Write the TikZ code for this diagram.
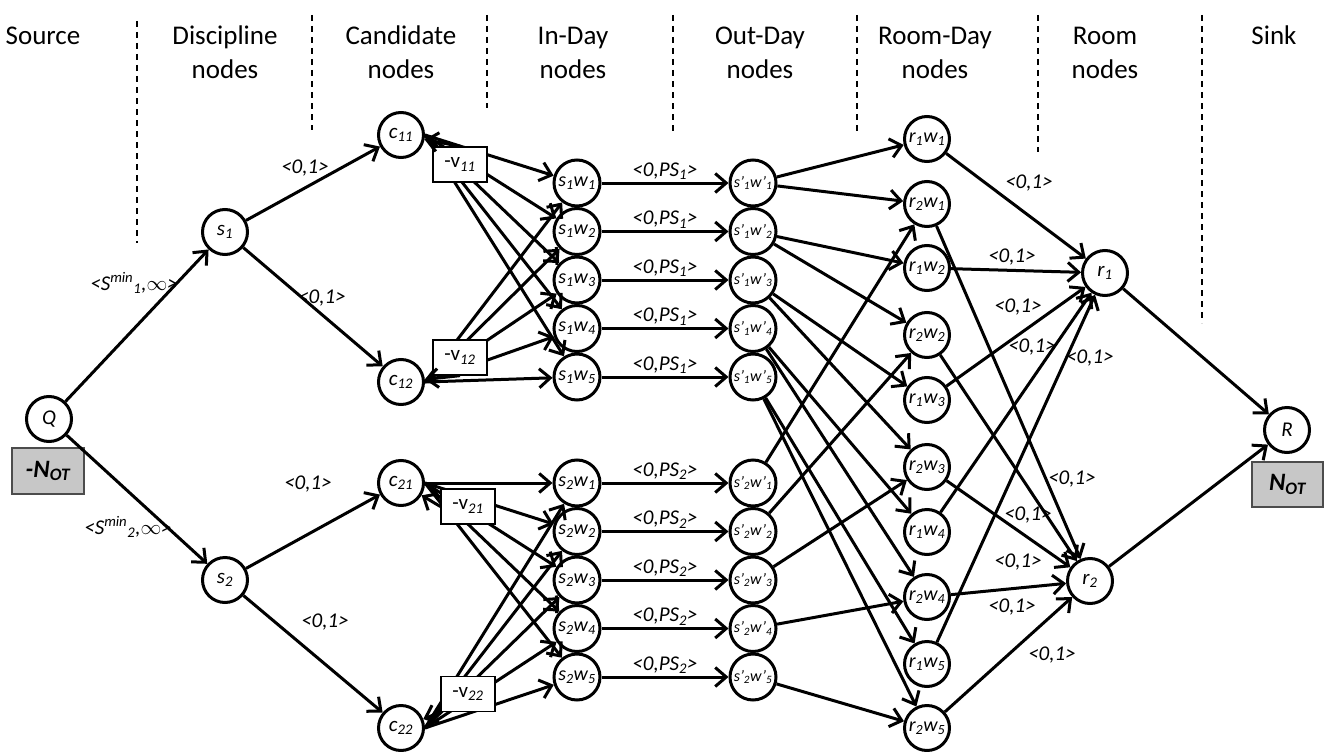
\documentclass[tikz,border=0pt]{standalone}
\usepackage{fontspec}
\setmainfont{Carlito}
\usetikzlibrary{arrows.meta}
\tikzset{
  nd/.style={circle,draw,line width=3pt,minimum size=45pt,inner sep=0pt,font=\fontsize{21}{24}\selectfont\itshape},
  ndi/.style={nd,minimum size=46pt,font=\fontsize{20}{22}\selectfont\itshape},
  ndo/.style={nd,minimum size=46pt,font=\fontsize{16}{18}\selectfont\itshape},
  ndr/.style={nd,minimum size=45pt,font=\fontsize{20}{22}\selectfont\itshape},
  arr/.style={line width=3pt,-{Straight Barb[length=11pt,width=19pt,line width=3pt]}},
  vbox/.style={draw,fill=white,line width=1.3pt,minimum width=54pt,minimum height=35pt,inner sep=0pt,font=\fontsize{21}{23}\selectfont},
  gbox/.style={draw=black!70,fill=black!22,line width=1.6pt,minimum width=72pt,minimum height=46pt,inner sep=0pt,font=\fontsize{25}{27}\selectfont\bfseries\itshape},
  hdr/.style={anchor=base,inner sep=0pt,font=\fontsize{27}{33}\selectfont},
  lab/.style={inner sep=0pt,font=\fontsize{21}{23}\selectfont\itshape},
  divider/.style={dash pattern=on 6pt off 5pt,line width=1.4pt},
}
\begin{document}
\begin{tikzpicture}[x=1pt,y=-1pt]
\useasboundingbox (0,0) rectangle (1325,752);

% headers
\node[hdr] (h1) at (43,45) {Source};
\node[hdr] (h2a) at (225,45) {Discipline};
\node[hdr] (h2b) at (225,78) {nodes};
\node[hdr] (h3a) at (401,45) {Candidate};
\node[hdr] (h3b) at (401,78) {nodes};
\node[hdr] (h4a) at (573,45) {In-Day};
\node[hdr] (h4b) at (573,78) {nodes};
\node[hdr] (h5a) at (760,45) {Out-Day};
\node[hdr] (h5b) at (760,78) {nodes};
\node[hdr] (h6a) at (935,45) {Room-Day};
\node[hdr] (h6b) at (935,78) {nodes};
\node[hdr] (h7a) at (1105,45) {Room};
\node[hdr] (h7b) at (1105,78) {nodes};
\node[hdr] (h8) at (1274,45) {Sink};

% dividers
\draw[divider] (137,21) -- (137,243);
\draw[divider] (312,15) -- (312,130);
\draw[divider] (487,15) -- (487,108);
\draw[divider] (673,15) -- (673,135);
\draw[divider] (857,15) -- (857,135);
\draw[divider] (1038,15) -- (1038,152);
\draw[divider] (1202,15) -- (1202,323);

% nodes
\node[nd] (Q) at (49,419) {Q};
\node[gbox] (nq) at (48,471) {-N\textsubscript{OT}};
\node[nd] (s1) at (225,232) {s\textsubscript{1}};
\node[nd] (s2) at (225,580) {s\textsubscript{2}};
\node[nd] (c11) at (401,135) {c\textsubscript{11}};
\node[nd] (c12) at (401,382) {c\textsubscript{12}};
\node[nd] (c21) at (401,483) {c\textsubscript{21}};
\node[nd] (c22) at (401,728) {c\textsubscript{22}};

\foreach \j/\y in {1/183,2/231.5,3/280,4/328.5,5/377} {
  \node[ndi] (a\j) at (577,\y) {s\textsubscript{1}w\textsubscript{\j}};
  \node[ndo] (b\j) at (753,\y) {s'\textsubscript{1}w'\textsubscript{\j}};
}
\foreach \j/\y in {1/483,2/531.5,3/580,4/628.5,5/677} {
  \node[ndi] (d\j) at (577,\y) {s\textsubscript{2}w\textsubscript{\j}};
  \node[ndo] (e\j) at (753,\y) {s'\textsubscript{2}w'\textsubscript{\j}};
}
\foreach \j/\ya/\yb in {1/139/204,2/268/335,3/400/467,4/532/597,5/664/728} {
  \node[ndr] (p\j) at (927,\ya) {r\textsubscript{1}w\textsubscript{\j}};
  \node[ndr] (q\j) at (927,\yb) {r\textsubscript{2}w\textsubscript{\j}};
}
\node[nd] (r1) at (1105,273) {r\textsubscript{1}};
\node[nd] (r2) at (1090,581) {r\textsubscript{2}};
\node[nd] (R) at (1287,430) {R};
\node[gbox,minimum width=71pt,minimum height=45pt] (nr) at (1287.5,484.5) {N\textsubscript{OT}};

% source to discipline
\draw[arr] (Q) -- (s1);
\draw[arr] (Q) -- (s2);
\node[lab] (l1) at (134,283) {<S\textsuperscript{min}\textsubscript{1},$\infty$>};
\node[lab] (l2) at (128,527) {<S\textsuperscript{min}\textsubscript{2},$\infty$>};

% discipline to candidate
\draw[arr] (s1) -- (c11);
\draw[arr] (s1) -- (c12);
\draw[arr] (s2) -- (c21);
\draw[arr] (s2) -- (c22);
\node[lab] (l3) at (305,168) {<0,1>};
\node[lab] (l4) at (322,298) {<0,1>};
\node[lab] (l5) at (308,484) {<0,1>};
\node[lab] (l6) at (325,622) {<0,1>};

% candidate to in-day
\foreach \j in {1,...,5} {
  \draw[arr] (c11.east) -- (a\j);
  \draw[arr] (c12.east) -- (a\j);
  \draw[arr] (c21.east) -- (d\j);
  \draw[arr] (c22.east) -- (d\j);
}
\node[vbox] (v11) at (460,164.5) {-v\textsubscript{\itshape 11}};
\node[vbox] (v12) at (460,357.5) {-v\textsubscript{\itshape 12}};
\node[vbox] (v21) at (468,506.5) {-v\textsubscript{\itshape 21}};
\node[vbox] (v22) at (468,694) {-v\textsubscript{\itshape 22}};
\draw[arr] (v11.north) -- (c11);
\draw[arr] (v12.south) -- (c12);
\draw[arr] (v21.west) -- (c21);
\draw[arr] (v22.south west) -- (c22);

% in-day to out-day
\foreach \j in {1,...,5} {
  \draw[arr] (a\j) -- node[lab,above=2pt] {<0,PS\textsubscript{1}>} (b\j);
  \draw[arr] (d\j) -- node[lab,above=2pt] {<0,PS\textsubscript{2}>} (e\j);
}

% out-day to room-day
\foreach \j in {1,...,5} {
  \draw[arr] (b\j) -- (p\j);
  \draw[arr] (b\j) -- (q\j);
  \draw[arr] (e\j) -- (q\j);
}

% room-day to room
\foreach \j in {1,...,5} {
  \draw[arr] (p\j) -- (r1);
  \draw[arr] (q\j) -- (r2);
}
\node[lab] (m1) at (1029,183) {<0,1>};
\node[lab] (m2) at (1012,257) {<0,1>};
\node[lab] (m3) at (1018,307) {<0,1>};
\node[lab] (m4) at (1032,347) {<0,1>};
\node[lab] (m5) at (1090,358) {<0,1>};
\node[lab] (n1) at (1072,479) {<0,1>};
\node[lab] (n2) at (1028,515) {<0,1>};
\node[lab] (n3) at (1018,562) {<0,1>};
\node[lab] (n4) at (1012,607) {<0,1>};
\node[lab] (n5) at (1052,655) {<0,1>};

% room to sink
\draw[arr] (r1) -- (R);
\draw[arr] (r2) -- (R);
\end{tikzpicture}
\end{document}
